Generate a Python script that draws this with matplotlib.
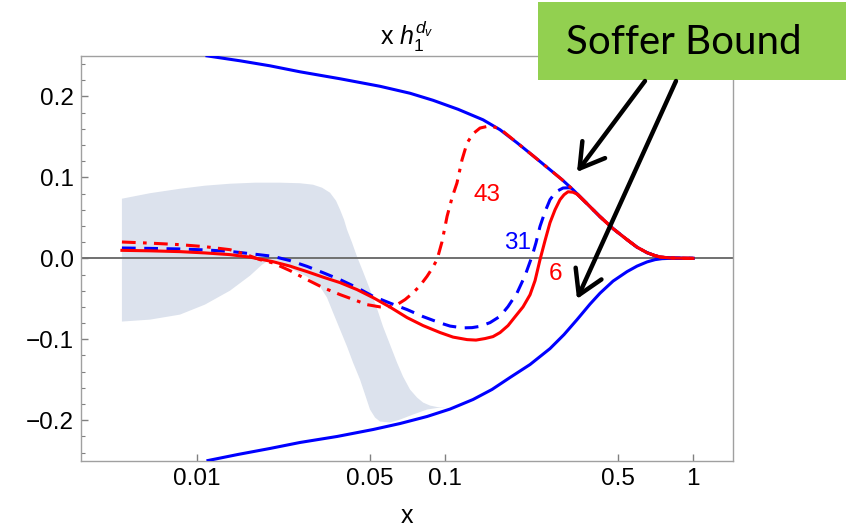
import matplotlib
matplotlib.use("Agg")
import matplotlib.pyplot as plt
from matplotlib.patches import Rectangle, FancyArrowPatch
from matplotlib.ticker import MultipleLocator, FixedLocator

plt.rcParams['font.family'] = ['Liberation Sans', 'DejaVu Sans']
plt.rcParams['mathtext.fontset'] = 'custom'
plt.rcParams['mathtext.rm'] = 'Liberation Sans'
plt.rcParams['mathtext.it'] = 'Liberation Sans:italic'

# ---- data ----
band_top_x = [0.00500, 0.006491, 0.00857, 0.01081, 0.01363, 0.01719, 0.02168, 0.02609, 0.02944,
              0.03201, 0.03447, 0.03644, 0.03783, 0.03925, 0.04036, 0.04228, 0.04428, 0.04682,
              0.04995, 0.05331, 0.05636, 0.06013, 0.06417, 0.06784, 0.07240, 0.07727, 0.08174,
              0.08717, 0.09302, 0.1021, 0.1130]
band_top_y = [0.0737, 0.0805, 0.0860, 0.0898, 0.0922, 0.0935, 0.0935, 0.0928, 0.0910,
              0.0873, 0.0811, 0.0712, 0.0601, 0.0478, 0.0354, 0.0194, 0.0021, -0.0164,
              -0.0386, -0.0621, -0.0843, -0.1065, -0.1288, -0.1460, -0.1621, -0.1720, -0.1782,
              -0.1819, -0.1837, -0.1843, -0.1843]
band_bot_x = [0.00500, 0.006491, 0.00857, 0.01081, 0.01363, 0.01641, 0.01835, 0.01975, 0.02168,
              0.02445, 0.02784, 0.03142, 0.03352, 0.03545, 0.03783, 0.04036, 0.04267, 0.04553,
              0.04770, 0.04995, 0.05234, 0.05481, 0.06013, 0.06598, 0.07445, 0.08479, 0.0957,
              0.1021, 0.1130]
band_bot_y = [-0.0781, -0.0757, -0.0695, -0.0571, -0.0399, -0.0214, -0.0078, -0.0016, -0.0041,
              -0.0140, -0.0226, -0.0349, -0.0485, -0.0670, -0.0880, -0.1090, -0.1288, -0.1498,
              -0.1683, -0.1868, -0.1967, -0.2016, -0.2029, -0.1992, -0.1930, -0.1868, -0.1843,
              -0.1843, -0.1843]

bound_up_x = [0.01101, 0.01496, 0.01975, 0.02609, 0.03783, 0.05481, 0.07240, 0.08963, 0.1130,
              0.1425, 0.1669, 0.1954, 0.2266, 0.2653, 0.2967, 0.3285, 0.3741, 0.4220, 0.4762,
              0.5421, 0.5946, 0.6527, 0.7031, 0.7364, 0.8078, 1.0]
bound_up_y = [0.2502, 0.2441, 0.2379, 0.2305, 0.2219, 0.2126, 0.2040, 0.1953, 0.1842,
              0.1712, 0.1589, 0.1428, 0.1268, 0.1095, 0.0972, 0.0848, 0.0675, 0.0515, 0.0367,
              0.0231, 0.0138, 0.0070, 0.0033, 0.0017, 0.0005, 0.0]

bound_lo_x = [0.01111, 0.01468, 0.01975, 0.02609, 0.03679, 0.05137, 0.06598, 0.08479, 0.1050,
              0.1299, 0.1549, 0.1831, 0.2204, 0.2653, 0.3021, 0.3409, 0.3846, 0.4220, 0.4762,
              0.5421, 0.5946, 0.6527, 0.7031, 0.7500, 0.8078, 1.0]
bound_lo_y = [-0.2498, -0.2423, -0.2349, -0.2275, -0.2201, -0.2115, -0.2041, -0.1954, -0.1862,
              -0.1744, -0.1620, -0.1472, -0.1312, -0.1115, -0.0942, -0.0757, -0.0565, -0.0430,
              -0.0281, -0.0164, -0.0096, -0.0044, -0.0016, -0.0004, 0.0, 0.0]

n6_x = [0.00500, 0.006491, 0.00857, 0.01081, 0.01363, 0.01641, 0.02031, 0.02378, 0.02784,
        0.03230, 0.03783, 0.04428, 0.05137, 0.06013, 0.07044, 0.08174, 0.0957, 0.1079,
        0.1229, 0.1335, 0.1452, 0.1563, 0.1669, 0.1797, 0.1918, 0.2065, 0.2204, 0.2309,
        0.2418, 0.2533, 0.2653, 0.2780, 0.2911, 0.3021, 0.3135, 0.3285, 0.3409, 0.3741,
        0.4220, 0.4762, 0.5421, 0.5946, 0.6527, 0.7031, 0.7364, 0.8078, 1.0]
n6_y = [0.0099, 0.0093, 0.0083, 0.0067, 0.0046, 0.0015, -0.0041, -0.0096, -0.0164,
        -0.0232, -0.0300, -0.0386, -0.0485, -0.0602, -0.0732, -0.0831, -0.0917, -0.0973,
        -0.1004, -0.1010, -0.0991, -0.0967, -0.0917, -0.0831, -0.0722, -0.0600, -0.0450,
        -0.0275, -0.0016, 0.0219, 0.0441, 0.0601, 0.0725, 0.0786, 0.0823, 0.0817, 0.0793,
        0.0675, 0.0515, 0.0367, 0.0231, 0.0138, 0.0070, 0.0033, 0.0017, 0.0005, 0.0]

n31_x = [0.00500, 0.006491, 0.00857, 0.01081, 0.01363, 0.01641, 0.02031, 0.02378, 0.02784,
         0.03230, 0.03783, 0.04428, 0.05137, 0.06013, 0.07044, 0.08174, 0.0957, 0.1050,
         0.1184, 0.1287, 0.1386, 0.1521, 0.1669, 0.1797, 0.1954, 0.2104, 0.2245, 0.2330,
         0.2418, 0.2533, 0.2653, 0.2805, 0.2994, 0.3194, 0.3285, 0.3741, 0.4220, 0.4762,
         0.5421, 0.5946, 0.6527, 0.7031, 0.7364, 0.8078, 1.0]
n31_y = [0.0128, 0.0123, 0.0116, 0.0104, 0.0086, 0.0058, 0.0025, -0.0028, -0.0099,
         -0.0177, -0.0263, -0.0362, -0.0469, -0.0553, -0.0633, -0.0720, -0.0798, -0.0837,
         -0.0859, -0.0856, -0.0840, -0.0794, -0.0716, -0.0596, -0.0427, -0.0214, 0.0025, 0.0194,
         0.0395, 0.0577, 0.0725, 0.0823, 0.0869, 0.0873, 0.0848, 0.0675, 0.0515, 0.0367,
         0.0231, 0.0138, 0.0070, 0.0033, 0.0017, 0.0005, 0.0]

n43_x = [0.00500, 0.006491, 0.00857, 0.01081, 0.01363, 0.01567, 0.01800, 0.02031, 0.02378,
         0.02784, 0.03230, 0.03783, 0.04347, 0.04860, 0.05481, 0.06013, 0.06417, 0.06911,
         0.07445, 0.07944, 0.08479, 0.08880, 0.09302, 0.09743, 0.1021, 0.1069, 0.1119,
         0.1173, 0.1229, 0.1299, 0.1386, 0.1521, 0.1669, 0.1954, 0.2266, 0.2653, 0.2967,
         0.3285, 0.3741, 0.4220, 0.4762, 0.5421, 0.5946, 0.6527, 0.7031, 0.7364, 0.8078, 1.0]
n43_y = [0.0202, 0.0188, 0.0169, 0.0144, 0.0107, 0.0052, -0.0016, -0.0057, -0.0152,
         -0.0263, -0.0362, -0.0448, -0.0516, -0.0572, -0.0600, -0.0596, -0.0572, -0.0510,
         -0.0427, -0.0337, -0.0222, -0.0127, -0.0016, 0.0206, 0.0519, 0.0749, 0.0931,
         0.1219, 0.1425, 0.1540, 0.1610, 0.1638, 0.1600, 0.1428, 0.1268, 0.1095, 0.0972,
         0.0848, 0.0675, 0.0515, 0.0367, 0.0231, 0.0138, 0.0070, 0.0033, 0.0017, 0.0005, 0.0]

x_ticks = [0.01, 0.05, 0.1, 0.5, 1]
x_ticklabels = ['0.01', '0.05', '0.1', '0.5', '1']
y_ticks = [-0.2, -0.1, 0.0, 0.1, 0.2]
y_ticklabels = ['\u22120.2', '\u22120.1', '0.0', '0.1', '0.2']

# ---- figure ----
fig = plt.figure(figsize=(8.48, 5.28), dpi=100)
ax = fig.add_axes([0.0955, 0.1275, 0.769, 0.7664])

ax.fill(band_top_x + band_bot_x[::-1], band_top_y + band_bot_y[::-1],
        color='#dce2ed', linewidth=0, zorder=1)
ax.axhline(0, color='#707070', lw=1.4, zorder=2)

ax.plot(bound_up_x, bound_up_y, color='#0000ff', lw=2.2, zorder=3)
ax.plot(bound_lo_x, bound_lo_y, color='#0000ff', lw=2.2, zorder=3)
ax.plot(n31_x, n31_y, color='#0000ff', lw=2.2, dashes=(4.5, 2.8), zorder=4)
ax.plot(n6_x, n6_y, color='#ff0000', lw=2.2, zorder=5)
ax.plot(n43_x, n43_y, color='#ff0000', lw=2.2, dashes=(4.5, 2.4, 1.2, 2.4), zorder=6)

ax.text(0.148, 0.078, '43', color='#ff0000', fontsize=17.5, ha='center', va='center')
ax.text(0.197, 0.019, '31', color='#0000ff', fontsize=17.5, ha='center', va='center')
ax.text(0.278, -0.019, '6', color='#ff0000', fontsize=17.5, ha='center', va='center')

ax.set_xscale('log')
ax.set_xlim(0.00342, 1.45)
ax.set_ylim(-0.25, 0.25)

ax.xaxis.set_major_locator(FixedLocator(x_ticks))
ax.set_xticklabels(x_ticklabels)
ax.xaxis.set_minor_locator(FixedLocator([]))
ax.set_yticks(y_ticks)
ax.set_yticklabels(y_ticklabels)
ax.yaxis.set_minor_locator(MultipleLocator(0.02))

ax.tick_params(axis='both', which='major', direction='in', length=5, width=1,
               color='#808080', labelsize=17.5, pad=5)
ax.tick_params(axis='y', which='minor', direction='in', length=3, width=0.8, color='#808080')
ax.tick_params(top=False, right=False)
for s in ax.spines.values():
    s.set_color('#a0a0a0')
    s.set_linewidth(1.0)

ax.set_xlabel('x', fontsize=18, labelpad=10)
ax.set_title(r'x $h_1^{d_v}$', fontsize=18, pad=8)

# ---- annotation box and arrows ----
fig.patches.append(Rectangle((538 / 848, 1 - 80 / 528), 308 / 848, 78 / 528,
                             transform=fig.transFigure, facecolor='#92d050',
                             edgecolor='none', zorder=10))
fig.text(684 / 848, 1 - 42 / 528, 'Soffer Bound', fontsize=29, family='Lato',
         ha='center', va='center', color='black', zorder=11)

for (x0, y0, x1, y1) in [(645, 81, 577, 172), (676, 81, 577, 299)]:
    fig.add_artist(FancyArrowPatch(
        (x0 / 848, 1 - y0 / 528), (x1 / 848, 1 - y1 / 528), transform=fig.transFigure,
        arrowstyle='->,head_length=1.0,head_width=0.6', mutation_scale=17,
        color='black', lw=3.2, shrinkA=0, shrinkB=0, zorder=12))

fig.savefig('out.png', dpi=100)
